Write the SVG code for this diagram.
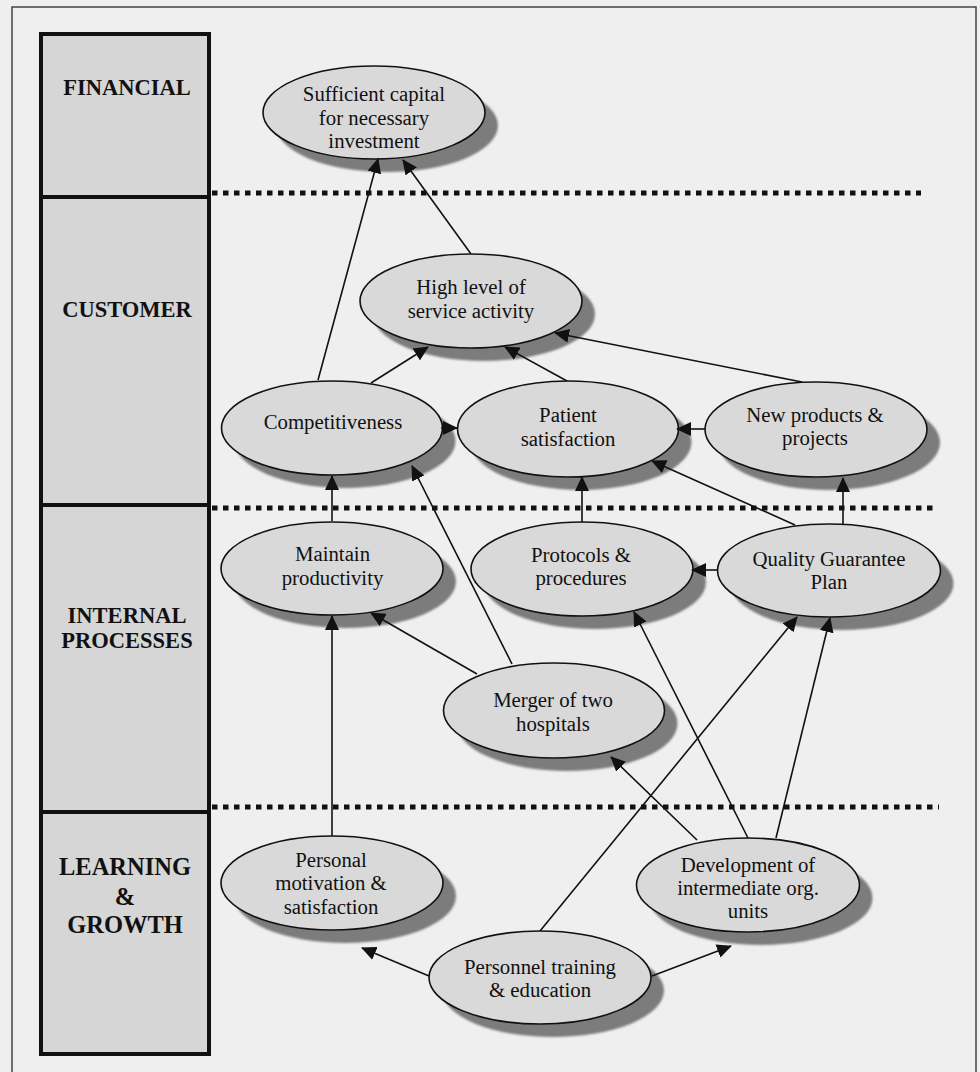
<svg xmlns="http://www.w3.org/2000/svg" width="980" height="1072" viewBox="0 0 980 1072">
<defs>
<style>
.lbl{font-family:"Liberation Serif","Times New Roman",serif;font-weight:bold;font-size:22.5px;fill:#111;text-anchor:middle}
.lbl2{font-family:"Liberation Serif","Times New Roman",serif;font-weight:bold;font-size:24.5px;fill:#111;text-anchor:middle}
.t{font-family:"Liberation Serif","Times New Roman",serif;font-size:20.8px;fill:#111;text-anchor:middle}
.el{fill:#d9d9d9;stroke:#111;stroke-width:1.6}
.sh{fill:#7c7c7c;filter:url(#blur)}
.dot{stroke:#111;stroke-width:5;stroke-dasharray:5.5 5.5;fill:none}
.c{stroke:#111;stroke-width:1.6;fill:none;marker-end:url(#ah)}
</style>
<filter id="blur" x="-10%" y="-10%" width="120%" height="120%"><feGaussianBlur stdDeviation="1.2"/></filter>
<marker id="ah" viewBox="0 0 15 14" refX="14" refY="7" markerWidth="15" markerHeight="14" markerUnits="userSpaceOnUse" orient="auto">
<path d="M0,0 L15,7 L0,14 z" fill="#111"/>
</marker>
</defs>
<rect x="0" y="0" width="980" height="1072" fill="#efefef"/>
<rect x="12" y="7" width="964" height="1080" fill="none" stroke="#444" stroke-width="1.5"/>

<g id="perspectives">
<rect x="41" y="34" width="168" height="1020" fill="#d6d6d6" stroke="#111" stroke-width="4"/>
<line x1="41" y1="197" x2="209" y2="197" stroke="#111" stroke-width="4"/>
<line x1="41" y1="505" x2="209" y2="505" stroke="#111" stroke-width="4"/>
<line x1="41" y1="812" x2="209" y2="812" stroke="#111" stroke-width="4"/>
<text class="lbl" x="127" y="95">FINANCIAL</text>
<text class="lbl" x="127" y="317">CUSTOMER</text>
<text class="lbl" x="127" y="623">INTERNAL</text>
<text class="lbl" x="127" y="648">PROCESSES</text>
<text class="lbl2" x="125" y="875">LEARNING</text>
<text class="lbl2" x="125" y="905">&amp;</text>
<text class="lbl2" x="125" y="933">GROWTH</text>
</g>

<g id="dividers">
<line class="dot" x1="212" y1="193" x2="921" y2="193"/>
<line class="dot" x1="212" y1="508" x2="934" y2="508"/>
<line class="dot" x1="212" y1="807" x2="939" y2="807"/>
</g>

<g id="n-capital">
<ellipse class="sh" cx="387" cy="125.5" rx="111" ry="46.5"/>
<ellipse class="el" cx="374" cy="112.5" rx="111" ry="46.5"/>
<text class="t" x="374" y="101">Sufficient capital</text>
<text class="t" x="374" y="124.5">for necessary</text>
<text class="t" x="374" y="148">investment</text>
</g>
<g id="n-service">
<ellipse class="sh" cx="484" cy="314" rx="111" ry="47"/>
<ellipse class="el" cx="471" cy="301" rx="111" ry="47"/>
<text class="t" x="471" y="294">High level of</text>
<text class="t" x="471" y="318">service activity</text>
</g>
<g id="n-compet">
<ellipse class="sh" cx="345" cy="441" rx="110.5" ry="47"/>
<ellipse class="el" cx="332" cy="428" rx="110.5" ry="47"/>
<text class="t" x="333" y="429">Competitiveness</text>
</g>
<g id="n-patient">
<ellipse class="sh" cx="581" cy="442" rx="110.5" ry="48"/>
<ellipse class="el" cx="568" cy="429" rx="110.5" ry="48"/>
<text class="t" x="568" y="422">Patient</text>
<text class="t" x="568" y="446">satisfaction</text>
</g>
<g id="n-newprod">
<ellipse class="sh" cx="829" cy="442.5" rx="111" ry="47.5"/>
<ellipse class="el" cx="816" cy="429.5" rx="111" ry="47.5"/>
<text class="t" x="815" y="422">New products &amp;</text>
<text class="t" x="815" y="445">projects</text>
</g>
<g id="n-maintain">
<ellipse class="sh" cx="345" cy="581.5" rx="111" ry="46.5"/>
<ellipse class="el" cx="332" cy="568.5" rx="111" ry="46.5"/>
<text class="t" x="332.5" y="561">Maintain</text>
<text class="t" x="332.5" y="585">productivity</text>
</g>
<g id="n-protocols">
<ellipse class="sh" cx="595" cy="582" rx="111" ry="47"/>
<ellipse class="el" cx="582" cy="569" rx="111" ry="47"/>
<text class="t" x="581" y="562">Protocols &amp;</text>
<text class="t" x="581" y="585">procedures</text>
</g>
<g id="n-quality">
<ellipse class="sh" cx="842" cy="583.5" rx="111.5" ry="46.5"/>
<ellipse class="el" cx="829" cy="570.5" rx="111.5" ry="46.5"/>
<text class="t" x="829" y="566">Quality Guarantee</text>
<text class="t" x="829" y="589">Plan</text>
</g>
<g id="n-merger">
<ellipse class="sh" cx="567" cy="723.5" rx="110.5" ry="47.5"/>
<ellipse class="el" cx="554" cy="710.5" rx="110.5" ry="47.5"/>
<text class="t" x="553" y="707">Merger of two</text>
<text class="t" x="553" y="731">hospitals</text>
</g>
<g id="n-personal">
<ellipse class="sh" cx="345" cy="896" rx="111" ry="47"/>
<ellipse class="el" cx="332" cy="883" rx="111" ry="47"/>
<text class="t" x="331" y="867">Personal</text>
<text class="t" x="331" y="890">motivation &amp;</text>
<text class="t" x="331" y="914">satisfaction</text>
</g>
<g id="n-development">
<ellipse class="sh" cx="761" cy="898" rx="111.5" ry="47"/>
<ellipse class="el" cx="748" cy="885" rx="111.5" ry="47"/>
<text class="t" x="748" y="872">Development of</text>
<text class="t" x="748" y="895">intermediate org.</text>
<text class="t" x="748" y="918">units</text>
</g>
<g id="n-training">
<ellipse class="sh" cx="553" cy="990.5" rx="111" ry="46.5"/>
<ellipse class="el" cx="540" cy="977.5" rx="111" ry="46.5"/>
<text class="t" x="540" y="974">Personnel training</text>
<text class="t" x="540" y="997">&amp; education</text>
</g>

<g id="connectors">
<path class="c" d="M318,380 L378,159"/>
<path class="c" d="M471,254 L403,160"/>
<path class="c" d="M371,383 L428,347"/>
<path class="c" d="M567,381 L505,347"/>
<path class="c" d="M802,382 L555,333"/>
<path class="c" d="M705,429 L677,429"/>
<path class="c" d="M441,428 L457,428"/>
<path class="c" d="M332,521 L332,476"/>
<path class="c" d="M512,664 L412,466"/>
<path class="c" d="M582,522 L582,477"/>
<path class="c" d="M795,525 L652,461"/>
<path class="c" d="M843,524 L843,478"/>
<path class="c" d="M718,570 L692,570"/>
<path class="c" d="M477,674 L371,613"/>
<path class="c" d="M332,836 L332,616"/>
<path class="c" d="M697,840 L611,757"/>
<path class="c" d="M748,838 L634,612"/>
<path class="c" d="M776,838 L830,618"/>
<path class="c" d="M540,931 L797,617"/>
<path class="c" d="M429,976 L362,948"/>
<path class="c" d="M652,976 L731,946"/>
</g>
</svg>
